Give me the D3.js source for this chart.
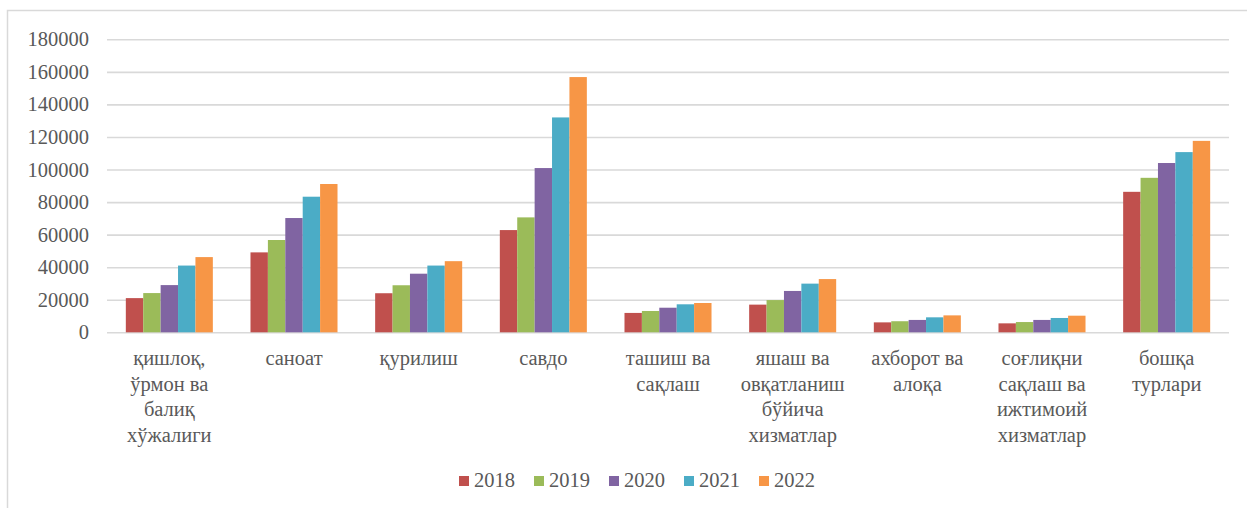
<!DOCTYPE html>
<html><head><meta charset="utf-8">
<script src="https://cdn.jsdelivr.net/npm/d3@7"></script>
<style>html,body{margin:0;padding:0;background:#fff;}</style>
</head>
<body><svg id="c" width="1247" height="508" style="display:block"></svg>
<script>
const categories = ["қишлоқ,\nўрмон ва\nбалиқ\nхўжалиги","саноат","қурилиш","савдо","ташиш ва\nсақлаш","яшаш ва\nовқатланиш\nбўйича\nхизматлар","ахборот ва\nалоқа","соғлиқни\nсақлаш ва\nижтимоий\nхизматлар","бошқа\nтурлари"];
const years = ["2018","2019","2020","2021","2022"];
const v2018 = [21000, 49100, 24000, 62800, 11900, 17000, 6100, 5500, 86300];
const v2019 = [24100, 56700, 28900, 70600, 13100, 19800, 6800, 6300, 94900];
const v2020 = [29000, 70200, 36000, 100900, 15100, 25400, 7600, 7600, 104000];
const v2021 = [41000, 83300, 41000, 132000, 17200, 29900, 9200, 8800, 110700];
const v2022 = [46200, 91100, 43700, 156800, 18000, 32700, 10400, 10200, 117600];
const yTicks = [0,20000,40000,60000,80000,100000,120000,140000,160000,180000];
const colors = ["#C0504D","#9BBB59","#8064A2","#4BACC6","#F79646"];
const series = [v2018,v2019,v2020,v2021,v2022];
const FONT = '"Liberation Serif"';
const FS = "20.5px";

const svg = d3.select("#c");
// outer border
svg.append("path").attr("d","M7.5,508 V10.5 H1247").attr("fill","none").attr("stroke","#d9d9d9").attr("stroke-width",1.5);

const pLeft=107, pRight=1229, pTop=39.3, pBottom=332.3;
const x = d3.scaleBand().domain(categories).range([pLeft,pRight]).paddingInner(0.302).paddingOuter(0.151);
const xi = d3.scaleBand().domain(years).range([0,x.bandwidth()]);
const y = d3.scaleLinear().domain([0,180000]).range([pBottom,pTop]);

// gridlines
const yAxis = d3.axisLeft(y).tickValues(yTicks).tickSize(-(pRight-pLeft)).tickFormat(d3.format("d")).tickPadding(18);
const gy = svg.append("g").attr("transform",`translate(${pLeft},0)`).call(yAxis);
gy.attr("font-family",null).attr("font-size",null);
gy.select(".domain").remove();
gy.selectAll(".tick line").attr("stroke","#d9d9d9").attr("stroke-width",1.6);
gy.selectAll(".tick text").attr("fill","#595959").style("font-family",FONT).style("font-size",FS);

// bars
const groups = svg.append("g").selectAll("g").data(categories).join("g")
  .attr("transform",d=>`translate(${x(d)},0)`);
groups.selectAll("rect").data((d,i)=>years.map((yr,j)=>({yr, v:series[j][i], j})))
  .join("rect")
  .attr("x",d=>xi(d.yr)).attr("width",xi.bandwidth())
  .attr("y",d=>y(d.v)).attr("height",d=>y(0)-y(d.v))
  .attr("fill",d=>colors[d.j]);

// x labels
const xl = svg.append("g");
categories.forEach(c=>{
  const t = xl.append("text").attr("text-anchor","middle").attr("fill","#595959")
    .style("font-family",FONT).style("font-size",FS).attr("x",x(c)+x.bandwidth()/2);
  c.split("\n").forEach((ln,k)=>{
    t.append("tspan").attr("x",x(c)+x.bandwidth()/2).attr("y",365+k*25.5).text(ln);
  });
});

// legend
const lg = svg.append("g");
let lx = 459;
years.forEach((yr,j)=>{
  lg.append("rect").attr("x",lx).attr("y",476).attr("width",10).attr("height",10).attr("fill",colors[j]);
  const t = lg.append("text").attr("x",lx+15).attr("y",487).attr("fill","#595959")
    .style("font-family",FONT).style("font-size",FS).text(yr);
  lx += 15 + t.node().getComputedTextLength() + 19;
});
</script></body></html>
